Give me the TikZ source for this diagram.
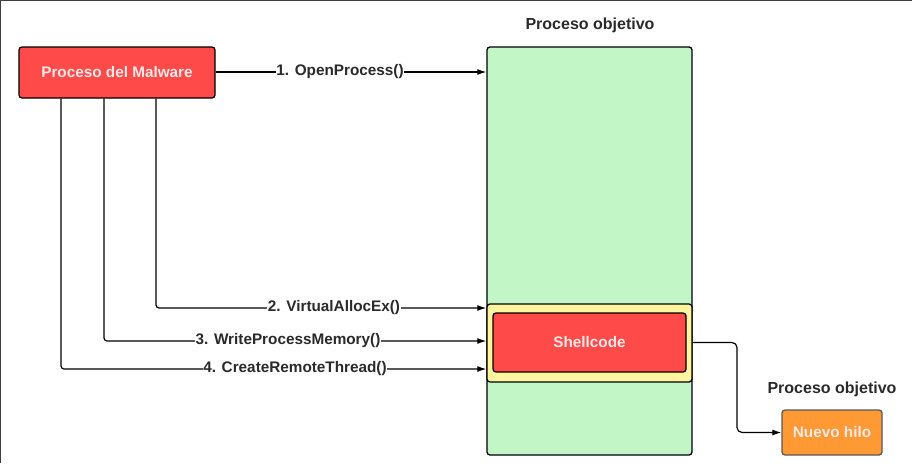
\documentclass[tikz,border=0pt]{standalone}
\usepackage{fontspec}
\setmainfont{Liberation Sans}
\usetikzlibrary{arrows.meta,calc}
\definecolor{malred}{HTML}{FF4A4A}
\definecolor{procgreen}{HTML}{C3F6C6}
\definecolor{memyellow}{HTML}{FFF59E}
\definecolor{throrange}{HTML}{FF9933}
\definecolor{txtdark}{HTML}{2A2A2A}
\definecolor{txtlight}{HTML}{FFE8E8}
\begin{document}
\begin{tikzpicture}[x=1pt,y=-1pt,
  box/.style={draw=black,line width=1.3pt,rounded corners=3pt,inner sep=0pt},
  redbox/.style={box,fill=malred,text=txtlight,font=\bfseries\fontsize{15.3}{17}\selectfont},
  title/.style={text=txtdark,font=\bfseries\fontsize{16}{18}\selectfont},
  lbl/.style={text=txtdark,fill=white,inner sep=0.5pt,font=\bfseries\fontsize{15.3}{17}\selectfont},
  arr/.style={line width=1.2pt,-{Latex[length=9pt,width=6pt]}}
]
\useasboundingbox (0,0) rectangle (912,463);
\draw[draw=black!75,line width=2.5pt] (0,463) -- (0,0) -- (912,0);

\node[box,fill=procgreen,minimum width=205,minimum height=408] (green) at (589.5,251) {};
\node[title] (t1) at (590,25) {Proceso objetivo};
\node[box,fill=memyellow,minimum width=205,minimum height=78] (yel) at (589.5,343) {};
\node[redbox,minimum width=193,minimum height=59] (shell) at (589.5,342.5) {Shellcode};

\node[redbox,minimum width=196,minimum height=51] (mal) at (117,72.5) {Proceso del Malware};

\node[title] (t2) at (832,389) {Proceso objetivo};
\node[box,draw=black!65,fill=throrange,text=txtlight,font=\bfseries\fontsize{15.3}{17}\selectfont,minimum width=100,minimum height=45] (nuevo) at (832,432.5) {Nuevo hilo};

\draw[arr] (mal.east |- 0,72) -- (green.west |- 0,72);
\draw[arr,rounded corners=3pt] (mal.south -| 156,0) |- (green.west |- 0,308);
\draw[arr,rounded corners=3pt] (mal.south -| 104,0) |- (green.west |- 0,341);
\draw[arr,rounded corners=3pt] (mal.south -| 61,0) |- (green.west |- 0,369);

\node[lbl] (l1) at (340,72) {1. OpenProcess()};
\node[lbl] (l2) at (334,308) {2. VirtualAllocEx()};
\node[lbl] (l3) at (288,341) {3. WriteProcessMemory()};
\node[lbl] (l4) at (295,369) {4. CreateRemoteThread()};

\draw[arr,rounded corners=5pt] (yel.east |- shell.east) -| ($(yel.east)!0.5!(nuevo.west)$) |- (nuevo.west);
\end{tikzpicture}
\end{document}
